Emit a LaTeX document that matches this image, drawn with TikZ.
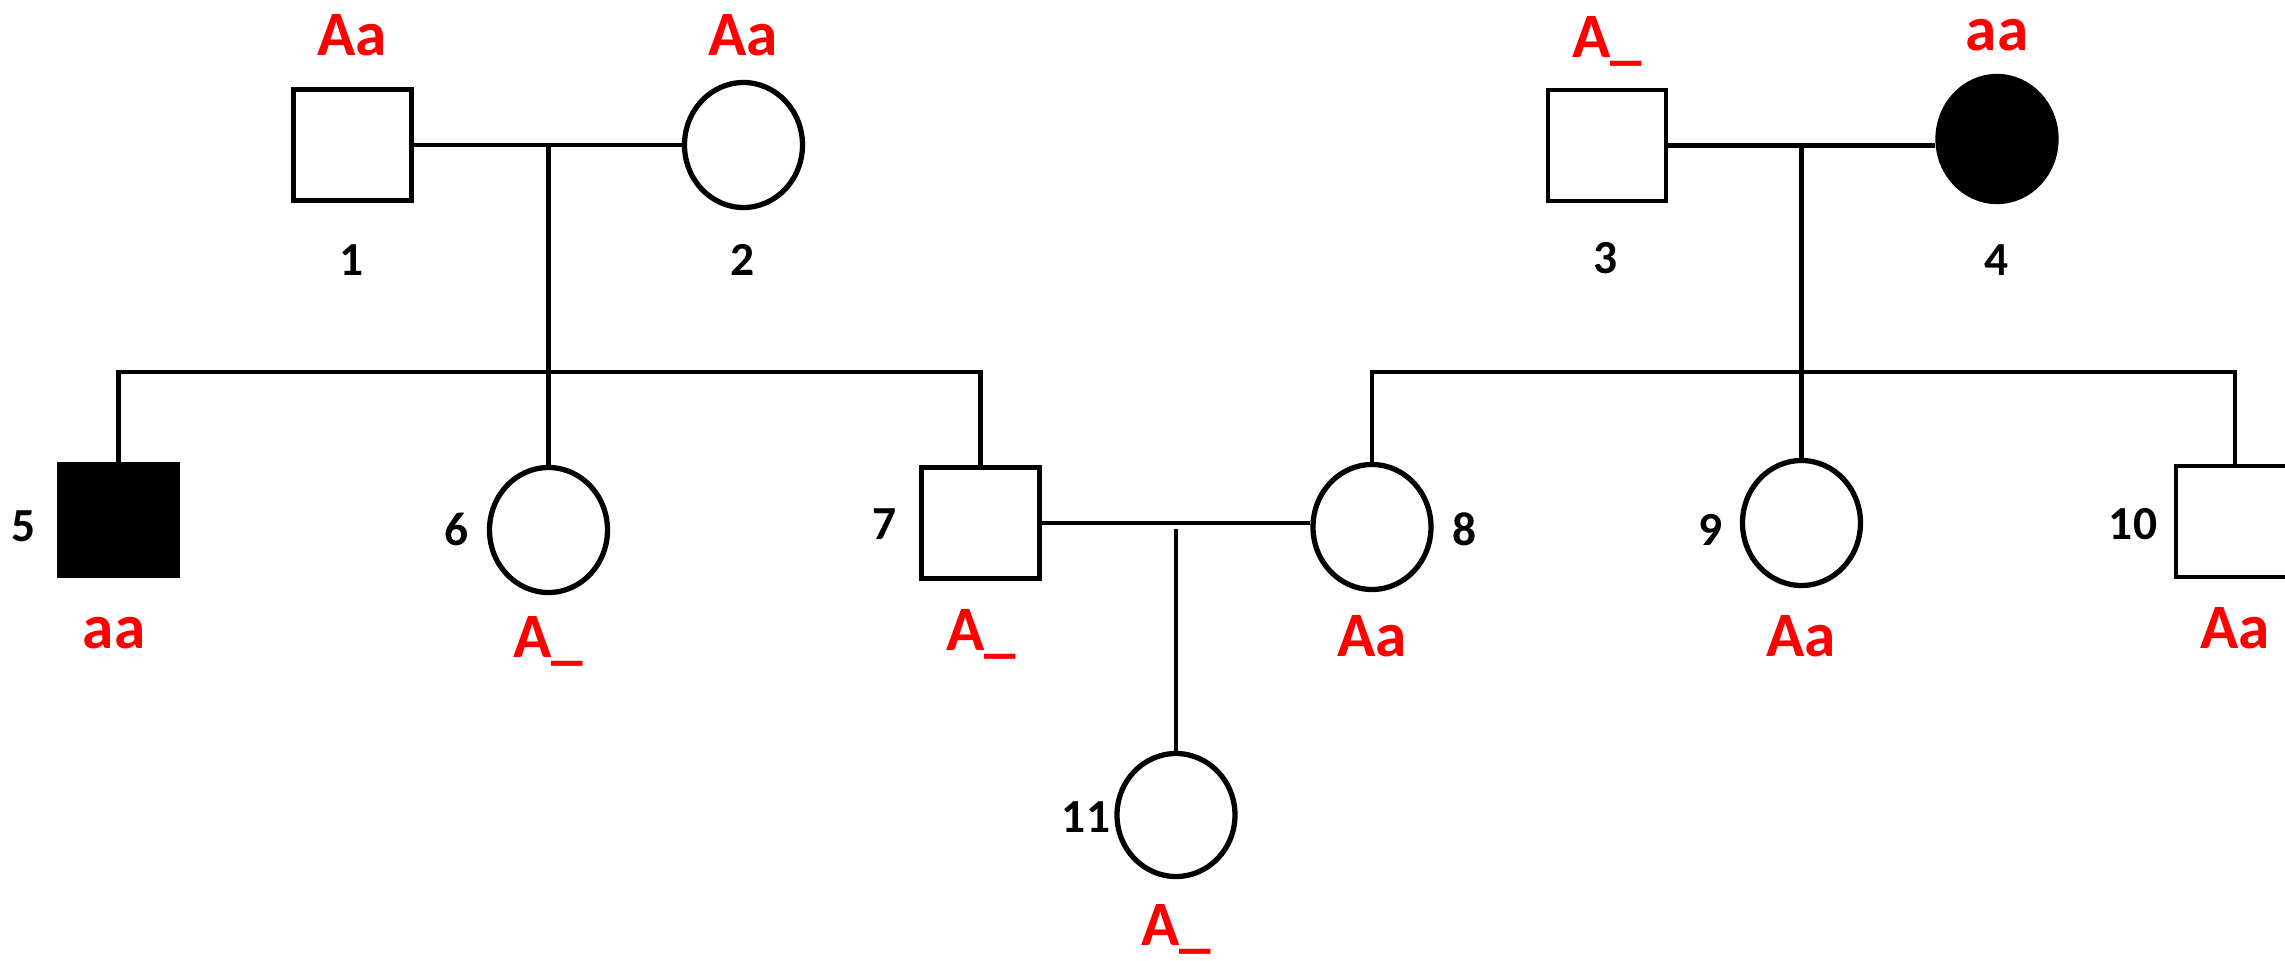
\documentclass[tikz,border=0pt]{standalone}
\usepackage{fontspec}
\setmainfont{Carlito}
\usetikzlibrary{shapes.geometric}

\begin{document}
\begin{tikzpicture}[
  male/.style={draw, line width=1.4pt, rectangle, inner sep=0pt, minimum width=1.18cm, minimum height=1.11cm},
  female/.style={draw, line width=1.5pt, ellipse, inner sep=0pt, minimum width=1.18cm, minimum height=1.25cm},
  affected/.style={fill=black},
  geno/.style={text=red, font=\fontsize{18}{20}\selectfont\bfseries, inner sep=0pt, anchor=base},
  num/.style={font=\fontsize{13.5}{15}\selectfont\bfseries, inner sep=0pt, anchor=base},
  link/.style={line width=1.4pt}
]
\useasboundingbox (0,0) rectangle (22.85,9.6);

% first generation
\node[male] (n1) at (3.525,8.15) {};
\node[female] (n2) at (7.435,8.15) {};
\node[male] (n3) at (16.07,8.145) {};
\node[female, affected] (n4) at (19.97,8.21) {};

\node[geno] (g1) at (3.52,9.05) {Aa};
\node[geno] (g2) at (7.43,9.05) {Aa};
\node[geno] (g3) at (16.07,9.03) {A\_};
\node[geno] (g4) at (19.97,9.10) {aa};

\node[num] (l1) at (3.52,6.85) {1};
\node[num] (l2) at (7.43,6.85) {2};
\node[num] (l3) at (16.06,6.87) {3};
\node[num] (l4) at (19.97,6.85) {4};

% second generation
\node[male, affected] (n5) at (1.185,4.40) {};
\node[female] (n6) at (5.485,4.30) {};
\node[male] (n7) at (9.805,4.37) {};
\node[female] (n8) at (13.72,4.33) {};
\node[female] (n9) at (18.015,4.37) {};
\node[male] (n10) at (22.35,4.385) {};

\node[geno] (g5) at (1.14,3.12) {aa};
\node[geno] (g6) at (5.48,3.03) {A\_};
\node[geno] (g7) at (9.81,3.10) {A\_};
\node[geno] (g8) at (13.72,3.04) {Aa};
\node[geno] (g9) at (18.01,3.04) {Aa};
\node[geno] (g10) at (22.35,3.12) {Aa};

\node[num] (l5) at (0.24,4.19) {5};
\node[num] (l6) at (4.57,4.15) {6};
\node[num] (l7) at (8.85,4.21) {7};
\node[num] (l8) at (14.65,4.15) {8};
\node[num] (l9) at (17.11,4.15) {9};
\node[num] (l10) at (21.33,4.21) {10};

% third generation
\node[female, minimum height=1.23cm] (n11) at (11.76,1.45) {};
\node[geno] (g11) at (11.76,0.15) {A\_};
\node[num] (l11) at (10.86,1.28) {11};

% couples and sibships
\coordinate (m12) at (5.485,8.15);
\coordinate (s12) at (5.485,5.88);
\coordinate (m34) at (18.015,8.145);
\coordinate (s34) at (18.015,5.88);
\coordinate (m78) at (11.76,4.31);

\draw[link] (n1.east) -- (n2.west);
\draw[link] (m12) -- (n6.north);
\draw[link] (n5.north) |- (s12) -| (n7.north);

\draw[link] (n3.east) -- (n3.east -| n4.west);
\draw[link] (m34) -- (n9.north);
\draw[link] (n8.north) |- (s34) -| (n10.north);

\draw[link] (n7.east) -- (n7.east -| n8.west);
\draw[link] (m78) -- (n11.north);
\end{tikzpicture}
\end{document}
